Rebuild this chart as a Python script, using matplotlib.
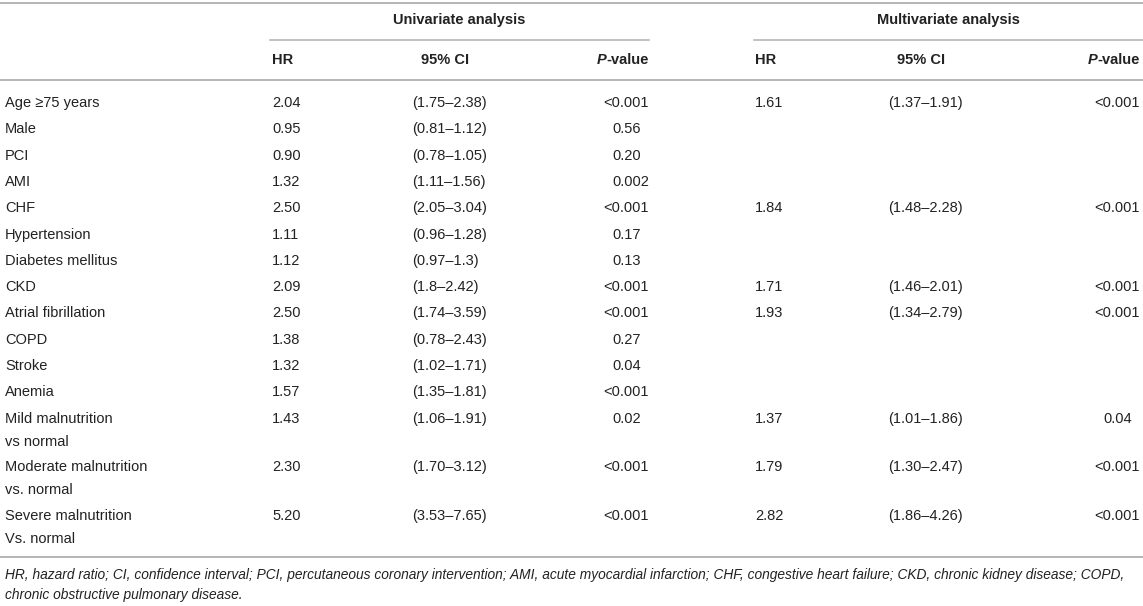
#!/usr/bin/env python3

import matplotlib.pyplot as plt

labels = ["Age \u226575 years", "Male", "PCI", "AMI", "CHF", "Hypertension",
          "Diabetes mellitus", "CKD", "Atrial fibrillation", "COPD", "Stroke",
          "Anemia", "Mild malnutrition\nvs normal",
          "Moderate malnutrition\nvs. normal", "Severe malnutrition\nVs. normal"]
uni_hr = ["2.04", "0.95", "0.90", "1.32", "2.50", "1.11", "1.12", "2.09",
          "2.50", "1.38", "1.32", "1.57", "1.43", "2.30", "5.20"]
uni_ci = ["(1.75\u20132.38)", "(0.81\u20131.12)", "(0.78\u20131.05)", "(1.11\u20131.56)",
          "(2.05\u20133.04)", "(0.96\u20131.28)", "(0.97\u20131.3)", "(1.8\u20132.42)",
          "(1.74\u20133.59)", "(0.78\u20132.43)", "(1.02\u20131.71)", "(1.35\u20131.81)",
          "(1.06\u20131.91)", "(1.70\u20133.12)", "(3.53\u20137.65)"]
uni_p = ["<0.001", "0.56", "0.20", "0.002", "<0.001", "0.17", "0.13", "<0.001",
         "<0.001", "0.27", "0.04", "<0.001", "0.02", "<0.001", "<0.001"]
multi_hr = ["1.61", "", "", "", "1.84", "", "", "1.71", "1.93", "", "", "",
            "1.37", "1.79", "2.82"]
multi_ci = ["(1.37\u20131.91)", "", "", "", "(1.48\u20132.28)", "", "",
            "(1.46\u20132.01)", "(1.34\u20132.79)", "", "", "",
            "(1.01\u20131.86)", "(1.30\u20132.47)", "(1.86\u20134.26)"]
multi_p = ["<0.001", "", "", "", "<0.001", "", "", "<0.001", "<0.001", "", "", "",
           "0.04", "<0.001", "<0.001"]
footnote = ["HR, hazard ratio; CI, confidence interval; PCI, percutaneous coronary "
            "intervention; AMI, acute myocardial infarction; CHF, congestive heart "
            "failure; CKD, chronic kidney disease; COPD,",
            "chronic obstructive pulmonary disease."]

W, H = 1143, 606
FONT = ["Liberation Sans", "DejaVu Sans"]
TXT = "#222222"
LINE = "#b0b0b0"
FS = 10.5


def p_text(ax, x, y, s):
    # two-decimal p-values sit one digit left of the three-decimal ones
    dx = -8 if (s and not s.startswith("<") and len(s.split(".")[1]) == 2) else 0
    ax.text(x + dx, y, s, ha="right", va="center", fontsize=FS, color=TXT)


def main():
    plt.rcParams["font.family"] = FONT
    fig = plt.figure(figsize=(W / 100, H / 100), dpi=100)
    ax = fig.add_axes([0, 0, 1, 1])
    ax.set_xlim(0, W)
    ax.set_ylim(H, 0)
    ax.axis("off")

    # column positions (pixels)
    x_lab = 5
    x_uhr, x_uci, x_up = 272, 412, 649
    x_mhr, x_mci, x_mp = 755, 888, 1140
    ci_w = 66

    ax.plot([0, W], [3, 3], color=LINE, lw=1.3)
    ax.text((270 + 649) / 2, 20, "Univariate analysis", ha="center", va="center",
            fontsize=FS, fontweight="bold", color=TXT)
    ax.text((754 + 1143) / 2, 20, "Multivariate analysis", ha="center", va="center",
            fontsize=FS, fontweight="bold", color=TXT)
    ax.plot([270, 649], [40, 40], color=LINE, lw=1.1)
    ax.plot([754, W], [40, 40], color=LINE, lw=1.1)

    for xh, xc, xp in [(x_uhr, x_uci, x_up), (x_mhr, x_mci, x_mp)]:
        ax.text(xh, 60, "HR", ha="left", va="center", fontsize=FS,
                fontweight="bold", color=TXT)
        ax.text(xc + ci_w / 2, 60, "95% CI", ha="center", va="center", fontsize=FS,
                fontweight="bold", color=TXT)
        ax.text(xp, 60, "-value", ha="right", va="center", fontsize=FS,
                fontweight="bold", color=TXT)
        ax.text(xp - 43, 60, "P", ha="right", va="center", fontsize=FS,
                fontweight="bold", fontstyle="italic", color=TXT)
    ax.plot([0, W], [80, 80], color=LINE, lw=1.3)

    y = 103
    for i, lab in enumerate(labels):
        lines = lab.split("\n")
        for k, part in enumerate(lines):
            ax.text(x_lab, y + 23 * k, part, ha="left", va="center", fontsize=FS,
                    color=TXT)
        ax.text(x_uhr, y, uni_hr[i], ha="left", va="center", fontsize=FS, color=TXT)
        ax.text(x_uci, y, uni_ci[i], ha="left", va="center", fontsize=FS, color=TXT)
        p_text(ax, x_up, y, uni_p[i])
        ax.text(x_mhr, y, multi_hr[i], ha="left", va="center", fontsize=FS, color=TXT)
        ax.text(x_mci, y, multi_ci[i], ha="left", va="center", fontsize=FS, color=TXT)
        p_text(ax, x_mp, y, multi_p[i])
        y += 26.3 + 22.5 * (len(lines) - 1)

    ax.plot([0, W], [557, 557], color=LINE, lw=1.3)
    for k, line in enumerate(footnote):
        ax.text(x_lab, 575 + 20 * k, line, ha="left", va="center",
                fontsize=9.9, fontstyle="italic", color=TXT)

    fig.savefig("out.png", dpi=100)


if __name__ == "__main__":
    main()
